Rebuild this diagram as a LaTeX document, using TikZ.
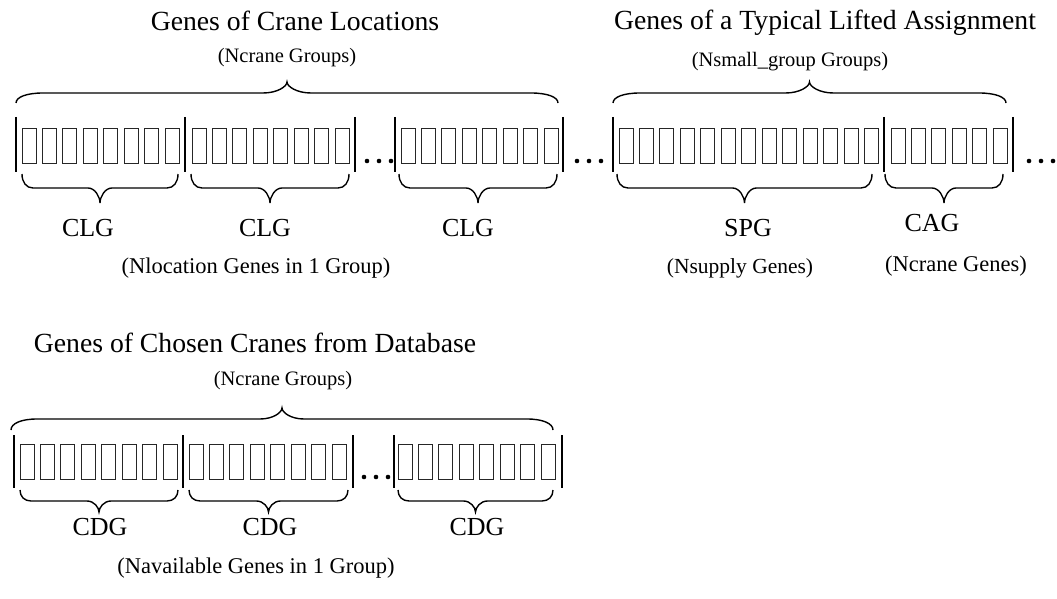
\documentclass[tikz,border=0pt]{standalone}
\usepackage{fontspec}
\setmainfont{Liberation Serif}
\begin{document}
\begin{tikzpicture}[x=1pt,y=-1pt,
  gene/.style={draw=black!85, line width=0.9pt},
  bar/.style={draw=black, line width=1.3pt},
  bracel/.style={draw=black, line width=1.4pt},
  dotm/.style={fill=black},
  txt/.style={inner sep=0pt, font=\fontsize{#1}{#1}\selectfont},
  title/.style={txt=27.7},
  label/.style={txt=26},
  note/.style={txt=22.5},
  head/.style={txt=20.5}]
\useasboundingbox (0,0) rectangle (1057,599);

% curly brace: x0, x1, y at the ends, y of the straight part, y of the tip, end radius, tip radius
\newcommand{\gbrace}[7]{%
  \draw[bracel] (#1,#3) .. controls (#1,{#3+0.6*(#4-#3)}) and ({#1+0.4*#6},#4) .. ({#1+#6},#4)
    -- ({(#1+#2)/2-#7},#4) .. controls ({(#1+#2)/2-0.4*#7},#4) and ({(#1+#2)/2},{#4+0.6*(#5-#4)}) .. ({(#1+#2)/2},#5)
    .. controls ({(#1+#2)/2},{#4+0.6*(#5-#4)}) and ({(#1+#2)/2+0.4*#7},#4) .. ({(#1+#2)/2+#7},#4)
    -- ({#2-#6},#4) .. controls ({#2-0.4*#6},#4) and (#2,{#3+0.6*(#4-#3)}) .. (#2,#3);}
% row of gene cells: first x, count, top y, bottom y
\newcommand{\genecells}[4]{%
  \foreach \k in {1,...,#2} \draw[gene] ({#1+(\k-1)*20.45},#3) rectangle ({#1+(\k-1)*20.45+14},#4);}
% three dots
\newcommand{\threedots}[2]{%
  \foreach \d in {0,12,24} \fill[dotm] ({#1+\d},#2) circle (2.3pt);}

% ---------------- crane locations and lifted assignment ----------------
\foreach \bx in {16,185,355,395,563,613,884,1013} \draw[bar] (\bx,117) -- (\bx,172);
\genecells{22}{8}{128}{163}
\genecells{192}{8}{128}{163}
\genecells{401}{8}{128}{163}
\genecells{619}{13}{128}{163}
\genecells{891}{6}{128}{163}
\threedots{367}{161}
\threedots{577}{161}
\threedots{1029}{161}

\gbrace{16}{558}{103}{93}{82}{27}{24}
\gbrace{613}{1006}{103}{93}{82}{27}{24}
\gbrace{22}{178}{174}{188}{203}{11}{12}
\gbrace{191}{349}{174}{188}{203}{11}{12}
\gbrace{399}{557}{174}{188}{203}{11}{12}
\gbrace{617}{872}{174}{188}{203}{11}{12}
\gbrace{885}{1003}{174}{188}{203}{11}{12}

\node[title] (t1) at (295,21) {Genes of Crane Locations};
\node[head]  (s1) at (287,58) {(Ncrane Groups)};
\node[title] (t2) at (825,23) {Genes of a Typical Lifted Assignment};
\node[head]  (s2) at (790,62) {(Nsmall\_group Groups)};
\node[label] (clg1) at (88,228) {CLG};
\node[label] (clg2) at (265,228) {CLG};
\node[label] (clg3) at (468,228) {CLG};
\node[note]  (nloc) at (256,268) {(Nlocation Genes in 1 Group)};
\node[label] (spg) at (748,228) {SPG};
\node[label] (cag) at (932,223) {CAG};
\node[txt=21.5] (nsup) at (740,268) {(Nsupply Genes)};
\node[note]  (ncg) at (956,266) {(Ncrane Genes)};

% ---------------- chosen cranes from database ----------------
\foreach \bx in {14,183,353,394,562} \draw[bar] (\bx,435) -- (\bx,488);
\genecells{20}{8}{444}{479}
\genecells{189}{8}{444}{479}
\genecells{398}{8}{444}{479}
\threedots{364}{477}

\gbrace{11}{553}{430}{419}{408}{26}{22}
\gbrace{20}{178}{490}{501}{512}{11}{12}
\gbrace{189}{348}{490}{501}{512}{11}{12}
\gbrace{398}{553}{490}{501}{512}{11}{12}

\node[title] (t3) at (255,343) {Genes of Chosen Cranes from Database};
\node[head]  (s3) at (283,381) {(Ncrane Groups)};
\node[label] (cdg1) at (100,527) {CDG};
\node[label] (cdg2) at (270,527) {CDG};
\node[label] (cdg3) at (477,527) {CDG};
\node[note]  (navl) at (256,568) {(Navailable Genes in 1 Group)};
\end{tikzpicture}
\end{document}
